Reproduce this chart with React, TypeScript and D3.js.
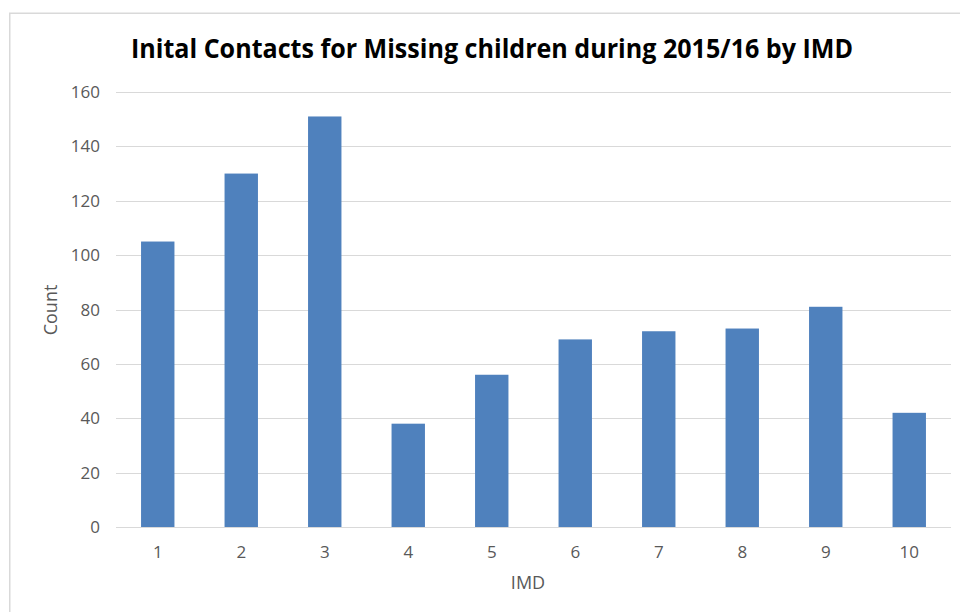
import React from "react";
import * as d3 from "d3";

const categories = ["1", "2", "3", "4", "5", "6", "7", "8", "9", "10"];
const counts = [105, 130, 151, 38, 56, 69, 72, 73, 81, 42];
const yTicks = [0, 20, 40, 60, 80, 100, 120, 140, 160];
const title = "Inital Contacts for Missing children during 2015/16 by IMD";
const xTitle = "IMD";
const yTitle = "Count";

export default function App() {
  const W = 960, H = 612;
  const left = 116, right = 951, top = 92, bottom = 527;
  const x = d3.scaleBand<string>().domain(categories).range([left, right]).paddingInner(0.6).paddingOuter(0.3);
  const y = d3.scaleLinear().domain([0, 160]).range([bottom, top]);
  const font = "'Open Sans', sans-serif";
  return (
    <svg width={W} height={H} style={{ position: "absolute", left: 0, top: 0 }} fontFamily={font}>
      <rect x={0} y={0} width={W} height={H} fill="#fff" />
      <rect x={9.75} y={13.25} width={980} height={640} fill="none" stroke="#d9d9d9" strokeWidth={1.5} />
      <text x={492} y={58} textAnchor="middle" fontSize={27} fontWeight="bold" fill="#000" textLength={722} lengthAdjust="spacingAndGlyphs">{title}</text>
      {yTicks.map((t) => (
        <g key={t}>
          <line x1={left} x2={right} y1={Math.round(y(t)) + 0.5} y2={Math.round(y(t)) + 0.5} stroke="#d9d9d9" strokeWidth={1} />
          <text x={100} y={y(t) + 6} textAnchor="end" fontSize={17} fill="#595959">{t}</text>
        </g>
      ))}
      {categories.map((c, i) => (
        <rect key={c} x={x(c)!} y={y(counts[i])} width={x.bandwidth()} height={y(0) - y(counts[i])} fill="#4F81BD" />
      ))}
      {categories.map((c) => (
        <text key={c} x={x(c)! + x.bandwidth() / 2} y={558} textAnchor="middle" fontSize={17} fill="#595959">{c}</text>
      ))}
      <text x={528} y={589} textAnchor="middle" fontSize={18} fill="#595959">{xTitle}</text>
      <text transform={`translate(57,310) rotate(-90)`} textAnchor="middle" fontSize={18} fill="#595959">{yTitle}</text>
    </svg>
  );
}
